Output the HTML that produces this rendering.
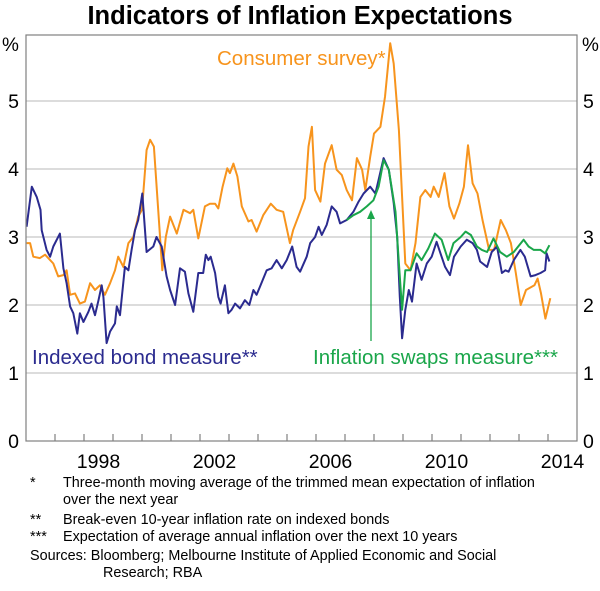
<!DOCTYPE html>
<html><head><meta charset="utf-8"><style>
body{margin:0;background:#fff;}
svg text{font-family:"Liberation Sans",Arial,sans-serif;}
</style></head><body>
<svg id="chart" width="600" height="586" xmlns="http://www.w3.org/2000/svg">
<text x="300" y="24" text-anchor="middle" font-size="25.5" font-weight="bold" fill="#000">Indicators of Inflation Expectations</text>
<g id="grid"></g>
<g id="series"></g>
<rect x="26" y="35" width="551" height="406" fill="none" stroke="#808080" stroke-width="1.2"/>
<g id="axes"></g>
<text x="2" y="51" font-size="19" fill="#000">%</text>
<text x="582" y="51" font-size="19" fill="#000">%</text>
<text x="217" y="65" font-size="20.5" fill="#f7941d">Consumer survey*</text>
<text x="32" y="364" font-size="20.5" fill="#2b2b8f">Indexed bond measure**</text>
<text x="313" y="364" font-size="20.5" fill="#1aa64a">Inflation swaps measure***</text>
<line x1="371" y1="341" x2="371" y2="218" stroke="#1aa64a" stroke-width="1.3"/>
<polygon points="371,210 367,219 375,219" fill="#1aa64a"/>
<g font-size="14.4" fill="#000">
<text x="30" y="487">*</text><text x="63" y="487">Three-month moving average of the trimmed mean expectation of inflation</text>
<text x="63" y="504">over the next year</text>
<text x="30" y="524">**</text><text x="63" y="524">Break-even 10-year inflation rate on indexed bonds</text>
<text x="30" y="541">***</text><text x="63" y="541">Expectation of average annual inflation over the next 10 years</text>
<text x="30" y="560">Sources: Bloomberg; Melbourne Institute of Applied Economic and Social</text>
<text x="103" y="577">Research; RBA</text>
</g>
</svg>
<script>
const yTicks=[0,1,2,3,4,5];
const xTickYears=[1997,1998,1999,2000,2001,2002,2003,2004,2005,2006,2007,2008,2009,2010,2011,2012,2013,2014];
const xLabels=["1998","2002","2006","2010","2014"];
const xLabelYears=[1998,2002,2006,2010,2014];
const blueX=[1996.02,1996.2,1996.37,1996.5,1996.54,1996.71,1996.83,1996.94,1997.17,1997.29,1997.4,1997.52,1997.63,1997.77,1997.86,1997.98,1998.15,1998.26,1998.38,1998.5,1998.61,1998.67,1998.78,1998.9,1999.07,1999.13,1999.24,1999.41,1999.53,1999.64,1999.76,1999.87,2000.01,2000.16,2000.39,2000.5,2000.68,2000.85,2000.97,2001.14,2001.31,2001.48,2001.6,2001.77,2001.94,2002.11,2002.2,2002.29,2002.37,2002.52,2002.63,2002.71,2002.86,2002.98,2003.09,2003.21,2003.38,2003.55,2003.7,2003.84,2003.95,2004.07,2004.3,2004.47,2004.64,2004.82,2004.99,2005.18,2005.33,2005.45,2005.68,2005.8,2005.97,2006.09,2006.2,2006.37,2006.54,2006.71,2006.83,2007.06,2007.29,2007.47,2007.64,2007.87,2008.05,2008.16,2008.33,2008.51,2008.68,2008.8,2008.89,2008.97,2009.08,2009.2,2009.31,2009.47,2009.64,2009.82,2009.99,2010.16,2010.33,2010.45,2010.62,2010.76,2010.99,2011.2,2011.4,2011.55,2011.66,2011.9,2012.06,2012.24,2012.41,2012.53,2012.64,2012.82,2013.05,2013.2,2013.4,2013.57,2013.74,2013.9,2013.95,2014.05];
const blueY=[3.15,3.74,3.59,3.40,3.10,2.81,2.71,2.86,3.05,2.54,2.32,1.98,1.88,1.58,1.88,1.75,1.90,2.02,1.85,2.07,2.29,2.12,1.44,1.61,1.73,1.98,1.85,2.56,2.51,2.81,3.10,3.25,3.64,2.78,2.86,3.0,2.86,2.42,2.22,2.0,2.54,2.49,2.17,1.90,2.47,2.47,2.74,2.66,2.71,2.47,2.12,2.02,2.29,1.88,1.93,2.02,1.95,2.07,2.0,2.22,2.15,2.27,2.51,2.54,2.66,2.54,2.66,2.86,2.56,2.49,2.71,2.91,3.0,3.15,3.03,3.18,3.45,3.37,3.2,3.25,3.37,3.52,3.64,3.74,3.64,3.84,4.16,3.99,3.50,3.0,2.12,1.51,1.93,2.22,2.05,2.61,2.37,2.61,2.71,2.93,2.71,2.56,2.44,2.71,2.86,2.96,2.91,2.81,2.64,2.56,2.78,2.86,2.47,2.51,2.49,2.66,2.81,2.71,2.42,2.44,2.47,2.51,2.76,2.64];
const greenX=[2007.06,2007.29,2007.52,2007.75,2007.98,2008.16,2008.33,2008.51,2008.74,2008.86,2008.97,2009.08,2009.26,2009.47,2009.64,2009.87,2010.1,2010.33,2010.56,2010.74,2010.99,2011.16,2011.34,2011.55,2011.72,2011.9,2012.12,2012.35,2012.58,2012.82,2013.16,2013.33,2013.51,2013.74,2013.9,2014.05];
const greenY=[3.25,3.32,3.37,3.45,3.54,3.74,4.13,3.99,3.37,2.61,1.93,2.51,2.51,2.76,2.66,2.83,3.05,2.96,2.66,2.91,3.0,3.08,3.03,2.86,2.81,2.78,2.98,2.78,2.71,2.78,2.96,2.86,2.81,2.81,2.76,2.88];
const orangeX=[1996.02,1996.14,1996.25,1996.48,1996.66,1996.83,1996.94,1997.11,1997.29,1997.4,1997.52,1997.69,1997.86,1998.03,1998.21,1998.38,1998.55,1998.72,1998.9,1999.07,1999.18,1999.36,1999.53,1999.7,1999.87,2000.0,2000.16,2000.28,2000.41,2000.56,2000.7,2000.82,2000.97,2001.2,2001.43,2001.66,2001.77,2001.94,2002.17,2002.34,2002.52,2002.63,2002.78,2002.94,2003.03,2003.15,2003.29,2003.44,2003.67,2003.78,2003.95,2004.18,2004.44,2004.64,2004.87,2005.1,2005.21,2005.45,2005.62,2005.74,2005.86,2005.97,2006.15,2006.31,2006.54,2006.71,2006.89,2007.06,2007.24,2007.41,2007.59,2007.7,2007.87,2008.0,2008.22,2008.38,2008.56,2008.68,2008.86,2008.97,2009.08,2009.26,2009.43,2009.6,2009.77,2009.95,2010.06,2010.23,2010.43,2010.6,2010.76,2010.94,2011.1,2011.24,2011.4,2011.57,2011.74,2011.97,2012.14,2012.37,2012.55,2012.72,2012.89,2013.06,2013.24,2013.53,2013.64,2013.76,2013.91,2014.08];
const orangeY=[2.91,2.91,2.71,2.69,2.74,2.66,2.61,2.42,2.44,2.51,2.15,2.17,2.02,2.05,2.32,2.22,2.29,2.15,2.32,2.51,2.71,2.56,2.91,3.0,3.30,3.40,4.28,4.43,4.33,3.40,2.51,3.0,3.30,3.05,3.40,3.35,3.40,2.98,3.45,3.49,3.49,3.42,3.74,4.01,3.94,4.08,3.89,3.45,3.23,3.25,3.08,3.32,3.49,3.40,3.37,2.91,3.10,3.37,3.57,4.33,4.62,3.69,3.52,4.08,4.35,3.99,3.91,3.69,3.54,4.16,3.99,3.69,4.18,4.52,4.62,5.06,5.85,5.55,4.57,3.59,2.61,2.51,2.91,3.59,3.69,3.59,3.74,3.59,3.94,3.45,3.27,3.49,3.74,4.35,3.79,3.64,3.25,2.81,2.81,3.25,3.10,2.91,2.47,2.0,2.22,2.29,2.39,2.17,1.80,2.10];

const NS="http://www.w3.org/2000/svg";
const X0=26,X1=577,Y0=441,PXU=68;
function xs(t){return X0+(t-1996)*(X1-X0)/19;}
function ys(v){return Y0-v*PXU;}
const grid=document.getElementById('grid'),axes=document.getElementById('axes'),ser=document.getElementById('series');
function mk(tag,attrs,parent){const e=document.createElementNS(NS,tag);for(const k in attrs)e.setAttribute(k,attrs[k]);parent.appendChild(e);return e;}
yTicks.forEach(v=>{
  if(v>0){const l=mk('line',{x1:X0,x2:X1,y1:ys(v),y2:ys(v),stroke:'#c8c8c8','stroke-width':1.2},grid);
  
  }
  const a=mk('text',{x:19,y:ys(v)+7,'text-anchor':'end','font-size':19.5},axes);a.textContent=v;
  
  
  const b=mk('text',{x:583,y:ys(v)+7,'font-size':19.5},axes);b.textContent=v;
  
  
});
xTickYears.forEach(t=>{
  const l=mk('line',{x1:xs(t),x2:xs(t),y1:Y0,y2:Y0-7,stroke:'#808080','stroke-width':1.2},axes);
  
  
});
xLabels.forEach((s,i)=>{
  const e=mk('text',{x:xs(xLabelYears[i]+0.5),y:468,'text-anchor':'middle','font-size':19.5},axes);e.textContent=s;
  
  
});
function line(xv,yv,color,name){
  const d=xv.map((t,i)=>(i?'L':'M')+xs(t).toFixed(1)+','+ys(yv[i]).toFixed(1)).join('');
  const p=mk('path',{d:d,fill:'none',stroke:color,'stroke-width':2,'stroke-linejoin':'round'},ser);
  
  
}
line(orangeX,orangeY,'#f7941d','consumer-survey-line');
line(blueX,blueY,'#2b2b8f','indexed-bond-line');
line(greenX,greenY,'#1aa64a','inflation-swaps-line');
</script>
</body></html>
